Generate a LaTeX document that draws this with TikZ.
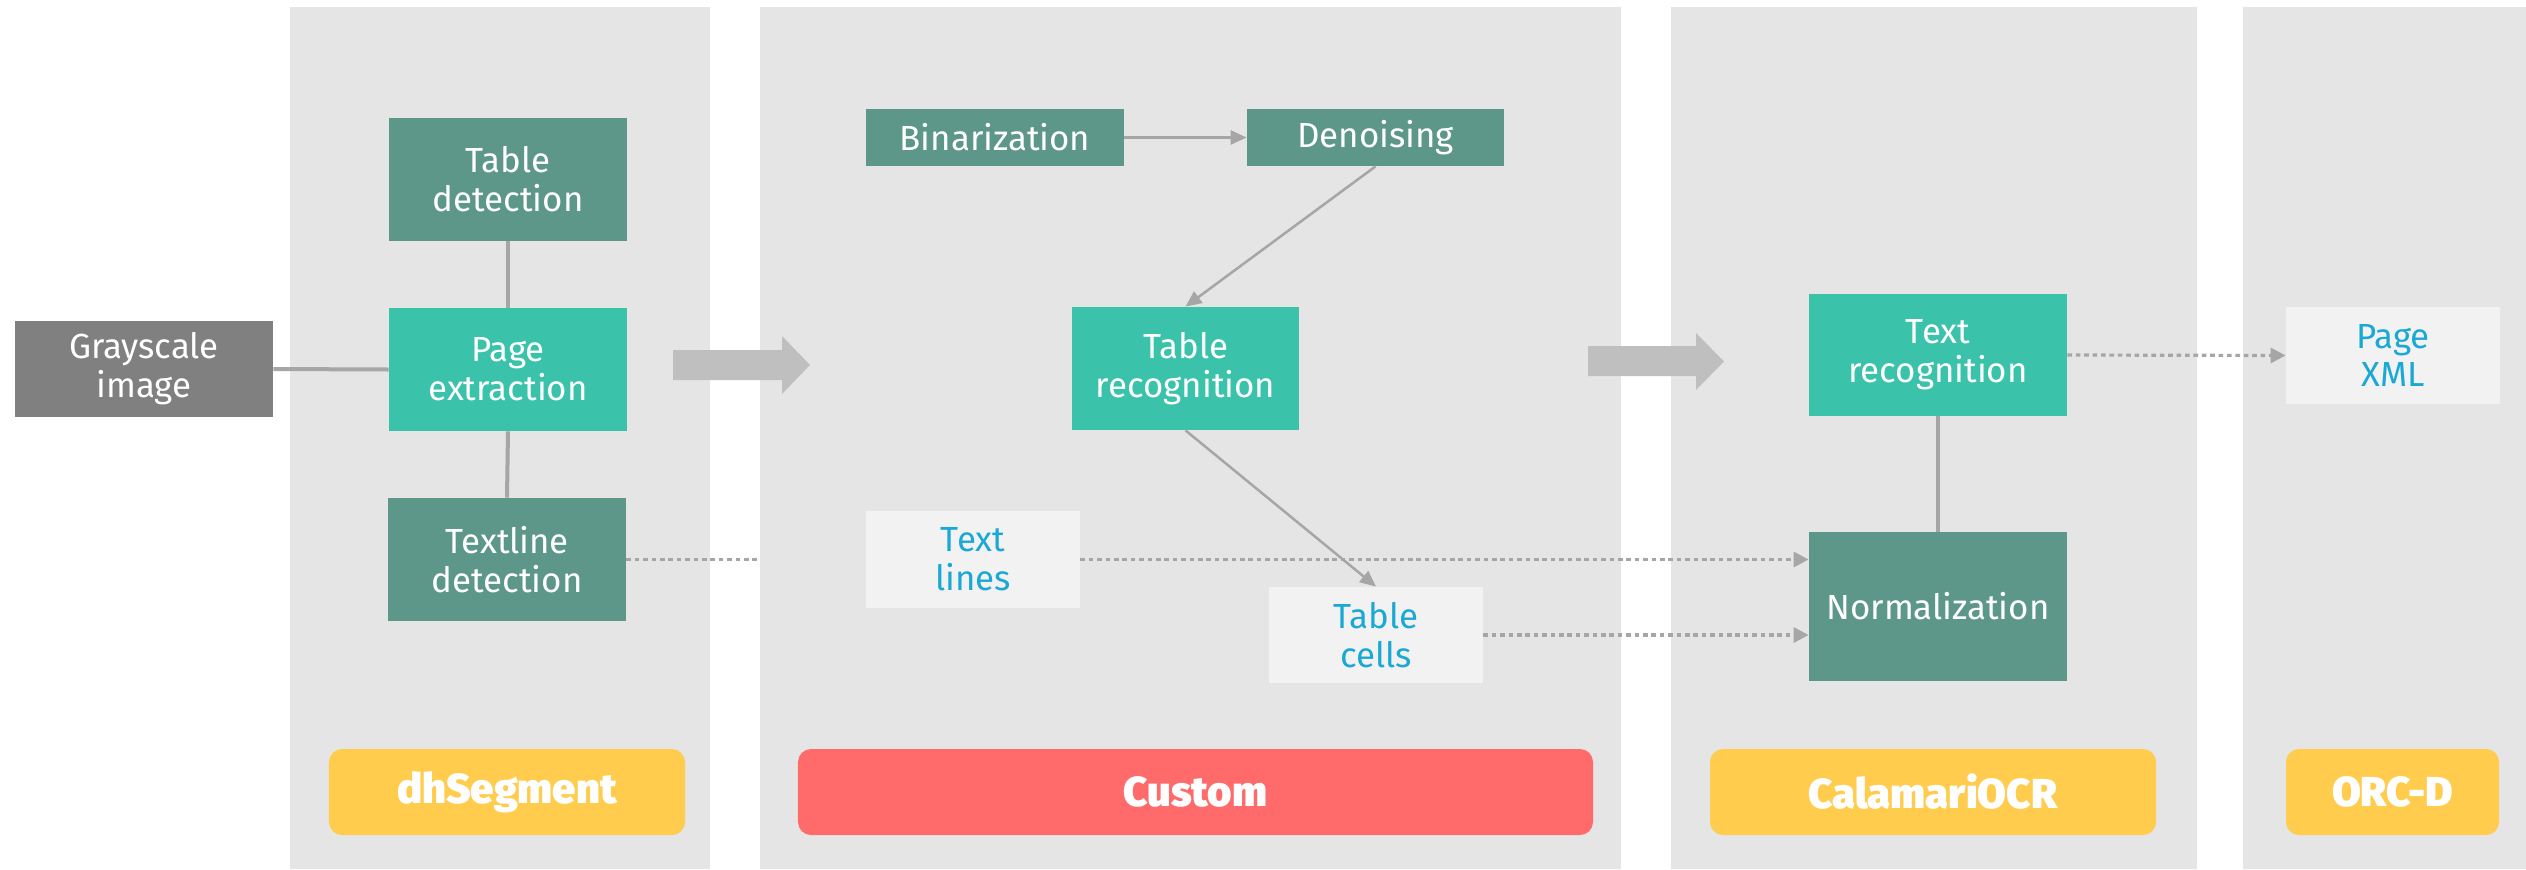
\documentclass[tikz,border=0pt]{standalone}
\usepackage{fontspec}
\setmainfont{Fira Sans}
\newfontfamily\pillfont{Fira Sans Black}
\usetikzlibrary{arrows.meta}
\definecolor{panel}{HTML}{E5E5E5}
\definecolor{dteal}{HTML}{5C9789}
\definecolor{bteal}{HTML}{3AC2AB}
\definecolor{gbox}{HTML}{808080}
\definecolor{lbox}{HTML}{F2F2F2}
\definecolor{btext}{HTML}{1AA8D4}
\definecolor{ypill}{HTML}{FFCC4D}
\definecolor{rpill}{HTML}{FF6B6B}
\definecolor{conn}{HTML}{A6A6A6}
\definecolor{bigarr}{HTML}{BFBFBF}
\begin{document}
\begin{tikzpicture}[x=0.5bp,y=-0.5bp,
  box/.style={inner sep=0pt, align=center, font=\fontsize{17.5}{19.5}\selectfont},
  darkbox/.style={box, fill=dteal, text=white},
  brightbox/.style={box, fill=bteal, text=white},
  graybox/.style={box, fill=gbox, text=white},
  lightbox/.style={box, fill=lbox, text=btext},
  pill/.style={inner sep=0pt, rounded corners=6.5bp, minimum height=43bp, text=white, font=\fontsize{21}{24}\pillfont},
  link/.style={draw=conn, line width=2bp},
  arr/.style={draw=conn, line width=1.25bp, -{Triangle[length=8bp,width=7bp]}},
  dots/.style={draw=conn, line width=1.6bp, dash pattern=on 2.3bp off 1.9bp},
  dotarr/.style={dots, -{Triangle[length=7.5bp,width=7.5bp]}},
  bigarrow/.style={fill=bigarr}
]
\useasboundingbox (0,0) rectangle (2526,869);
\fill[white] (0,0) rectangle (2526,869);
% panels
\fill[panel] (290,7) rectangle (710,869);
\fill[panel] (760,7) rectangle (1621,869);
\fill[panel] (1671,7) rectangle (2197,869);
\fill[panel] (2243,7) rectangle (2526,869);

% big arrows
\fill[bigarrow] (673,350) -- (782,350) -- (782,336) -- (810,365) -- (782,394) -- (782,380) -- (673,380) -- cycle;
\fill[bigarrow] (1588,346) -- (1696,346) -- (1696,333) -- (1724,361.5) -- (1696,390) -- (1696,376) -- (1588,376) -- cycle;

% nodes
\node[graybox, minimum width=129bp, minimum height=48bp] (gray) at (144,369) {Grayscale\\image};
\node[darkbox, minimum width=119bp, minimum height=61.5bp] (tabdet) at (508,179.5) {Table\\detection};
\node[brightbox, minimum width=119bp, minimum height=61.5bp] (pageext) at (508,369.5) {Page\\extraction};
\node[darkbox, minimum width=119bp, minimum height=61.5bp] (textdet) at (507,559.5) {Textline\\detection};

\node[darkbox, minimum width=129bp, minimum height=28.5bp] (binar) at (995,137.5) {Binarization};
\node[darkbox, minimum width=128.5bp, minimum height=28.5bp] (denoise) at (1375.5,137.5) {Denoising};
\node[brightbox, minimum width=113.5bp, minimum height=61.5bp] (tabrec) at (1185.5,368.5) {Table\\recognition};
\node[lightbox, minimum width=107bp, minimum height=48.5bp] (textlines) at (973,559.5) {Text\\lines};
\node[lightbox, minimum width=107bp, minimum height=48bp] (tabcells) at (1376,635) {Table\\cells};

\node[brightbox, minimum width=129bp, minimum height=61bp] (textrec) at (1938,355) {Text\\recognition};
\node[darkbox, minimum width=129bp, minimum height=74.5bp] (norm) at (1938,606.5) {Normalization};
\node[lightbox, minimum width=107bp, minimum height=48.5bp] (pagexml) at (2393,355.5) {Page\\XML};

% pills
\node[pill, fill=ypill, minimum width=178bp] (p1) at (507,792) {dhSegment};
\node[pill, fill=rpill, minimum width=397.5bp] (p2) at (1195.5,792) {Custom};
\node[pill, fill=ypill, minimum width=223bp] (p3) at (1933,792) {CalamariOCR};
\node[pill, fill=ypill, minimum width=106.5bp] (p4) at (2392.5,792) {ORC-D};

% connectors
\coordinate (p2edge) at (760,559.5);
\draw[link] (gray.east) -- (pageext.west);
\draw[link] (tabdet.south) -- (pageext.north);
\draw[link] (pageext.south) -- (textdet.north);
\draw[dots] (textdet.east) -- (p2edge);
\draw[arr] (binar.east) -- (denoise.west);
\draw[arr] (denoise.south) -- (tabrec.north);
\draw[arr] (tabrec.south) -- (tabcells.north);
\draw[dotarr] (textlines.east) -- (textlines.east -| norm.west);
\draw[dotarr] (tabcells.east) -- (tabcells.east -| norm.west);
\draw[link] (textrec.south) -- (norm.north);
\draw[dotarr] (textrec.east) -- (pagexml.west);
\end{tikzpicture}
\end{document}
